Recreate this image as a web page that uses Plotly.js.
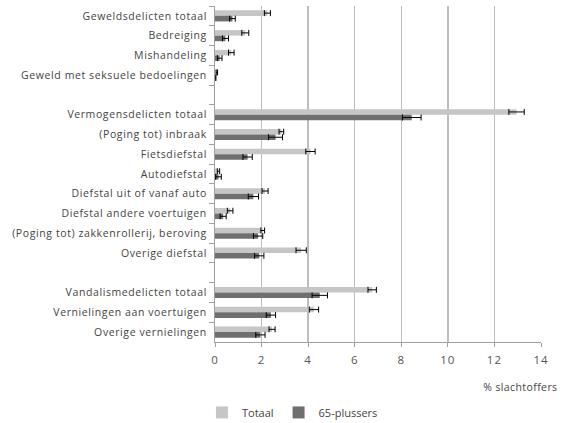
<!DOCTYPE html>
<html>
<head>
<meta charset="utf-8">
<script src="https://cdn.plot.ly/plotly-3.0.1.min.js"></script>
<style>
html,body{margin:0;padding:0;background:#fff;}
#chart{width:561px;height:423px;}
#chart .ytick text{letter-spacing:0.6px;}
#chart .xtick text{letter-spacing:1px;}
#chart .annotation-text{letter-spacing:0.4px;}
</style>
</head>
<body>
<div id="chart"></div>
<script>
var categories = [
  "Geweldsdelicten totaal",
  "Bedreiging",
  "Mishandeling",
  "Geweld met seksuele bedoelingen",
  "\u00a0",
  "Vermogensdelicten totaal",
  "(Poging tot) inbraak",
  "Fietsdiefstal",
  "Autodiefstal",
  "Diefstal uit of vanaf auto",
  "Diefstal andere voertuigen",
  "(Poging tot) zakkenrollerij, beroving",
  "Overige diefstal",
  "\u00a0\u00a0",
  "Vandalismedelicten totaal",
  "Vernielingen aan voertuigen",
  "Overige vernielingen"
];
var totaal    = [2.25, 1.3, 0.7, 0.08, null, 12.95, 2.85, 4.1, 0.15, 2.15, 0.65, 2.05, 3.7, null, 6.75, 4.25, 2.45];
var totaalErr = [0.13, 0.15, 0.12, 0.03, null, 0.33, 0.1, 0.2, 0.05, 0.13, 0.12, 0.08, 0.22, null, 0.18, 0.2, 0.13];
var plus65    = [0.75, 0.45, 0.2, 0.02, null, 8.45, 2.6, 1.4, 0.15, 1.65, 0.35, 1.85, 1.9, null, 4.5, 2.4, 1.95];
var plus65Err = [0.12, 0.13, 0.1, 0.02, null, 0.4, 0.3, 0.2, 0.12, 0.22, 0.13, 0.2, 0.2, null, 0.33, 0.2, 0.2];
var seriesNames = ["Totaal", "65-plussers"];

var traces = [
  {
    type: "bar", orientation: "h", name: seriesNames[0],
    y: categories, x: totaal,
    marker: {color: "#c6c6c6"},
    error_x: {type: "data", array: totaalErr, visible: true, color: "#000", thickness: 1, width: 3}
  },
  {
    type: "bar", orientation: "h", name: seriesNames[1],
    y: categories, x: plus65,
    marker: {color: "#6f6f6f"},
    error_x: {type: "data", array: plus65Err, visible: true, color: "#000", thickness: 1, width: 3}
  }
];

var layout = {
  width: 561, height: 423,
  margin: {l: 215, r: 20, t: 6, b: 81},
  paper_bgcolor: "#fff", plot_bgcolor: "#fff",
  font: {family: "Open Sans, sans-serif", size: 10, color: "#444"},
  barmode: "group",
  bargap: 0.44,
  bargroupgap: 0,
  showlegend: true,
  legend: {
    orientation: "h", xref: "container", yref: "container",
    x: 0.36, xanchor: "left", y: 0.025, yanchor: "middle",
    font: {size: 11, color: "#444"},
    itemwidth: 30, traceorder: "normal"
  },
  xaxis: {
    range: [0, 14], dtick: 2, tick0: 0,
    showgrid: true, gridcolor: "#bdbdbd", gridwidth: 1.5,
    showline: true, linecolor: "#a0a0a0", linewidth: 1,
    ticks: "outside", ticklen: 4, tickcolor: "#a0a0a0",
    tickfont: {size: 11.5, color: "#555"},
    ticklabelstandoff: 3,
    zeroline: false, fixedrange: true
  },
  yaxis: {
    type: "category", autorange: "reversed",
    tickson: "boundaries", ticks: "outside", ticklen: 5, tickcolor: "#a0a0a0",
    showline: true, linecolor: "#a0a0a0", linewidth: 1,
    showgrid: false, zeroline: false,
    ticklabelstandoff: 5,
    tickfont: {size: 10.5, color: "#444"}
  },
  annotations: [
    {text: "% slachtoffers", xref: "paper", yref: "paper",
     x: 1.05, xanchor: "right", y: -0.134, yanchor: "middle",
     showarrow: false, font: {size: 10.5, color: "#444"}}
  ]
};

Plotly.newPlot("chart", traces, layout, {displayModeBar: false, staticPlot: true});
</script>
</body>
</html>
